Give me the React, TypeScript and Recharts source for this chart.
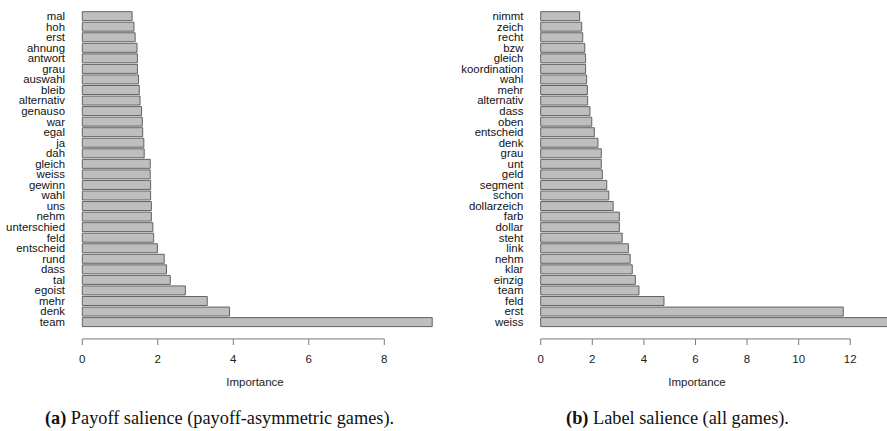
import React from 'react';
import { BarChart, Bar, XAxis, YAxis, ReferenceLine } from 'recharts';

const payoffWords = ['mal','hoh','erst','ahnung','antwort','grau','auswahl','bleib','alternativ','genauso','war','egal','ja','dah','gleich','weiss','gewinn','wahl','uns','nehm','unterschied','feld','entscheid','rund','dass','tal','egoist','mehr','denk','team'];
const payoffImportance = [1.32,1.37,1.40,1.45,1.46,1.46,1.49,1.51,1.53,1.57,1.59,1.60,1.63,1.64,1.80,1.80,1.81,1.81,1.83,1.83,1.87,1.89,1.99,2.17,2.23,2.33,2.73,3.31,3.90,9.27];
const payoffTicks = [0, 2, 4, 6, 8];

const labelWords = ['nimmt','zeich','recht','bzw','gleich','koordination','wahl','mehr','alternativ','dass','oben','entscheid','denk','grau','unt','geld','segment','schon','dollarzeich','farb','dollar','steht','link','nehm','klar','einzig','team','feld','erst','weiss'];
const labelImportance = [1.51,1.59,1.63,1.71,1.74,1.74,1.78,1.81,1.82,1.91,1.98,2.08,2.22,2.35,2.35,2.39,2.56,2.64,2.81,3.05,3.05,3.16,3.40,3.47,3.55,3.67,3.81,4.78,11.73,13.9];
const labelTicks = [0, 2, 4, 6, 8, 10, 12];

const axisTitle = 'Importance';
const captionA = { tag: '(a)', text: ' Payoff salience (payoff-asymmetric games).' };
const captionB = { tag: '(b)', text: ' Label salience (all games).' };

const payoffData = payoffWords.map((w, i) => ({ word: w, value: payoffImportance[i] }));
const labelData = labelWords.map((w, i) => ({ word: w, value: labelImportance[i] }));

const sans = "'Liberation Sans', Arial, Helvetica, sans-serif";
const serif = "'Liberation Serif', 'Times New Roman', serif";
const AXIS_DROP = 17;
const axisGray = '#7a7a7a';

function Panel({ data, ticks, domainMax, yWidth, width, marginRight }: any) {
  const lastWord = data[data.length - 1].word;
  const lastTick = ticks[ticks.length - 1];
  return (
    <BarChart
      width={width}
      height={372}
      data={data}
      layout="vertical"
      margin={{ top: 10.7, right: marginRight, bottom: 1, left: 0 }}
      barCategoryGap="9%"
    >
      <XAxis
        type="number"
        dataKey="value"
        domain={[0, domainMax]}
        ticks={ticks}
        height={32}
        tickSize={6}
        tickMargin={10}
        axisLine={false}
        tickLine={{ stroke: axisGray }}
        tick={{ fontSize: 11.5, fill: '#222' }}
      />
      <YAxis
        type="category"
        dataKey="word"
        width={yWidth}
        axisLine={false}
        tickLine={false}
        tickSize={0}
        tickMargin={17.3}
        interval={0}
        padding={{ top: 0, bottom: 11.8 }}
        tick={{ fontSize: 11.4, fill: '#111' }}
      />
      <Bar dataKey="value" fill="#bebebe" stroke="#555" strokeWidth={0.9} isAnimationActive={false} />
      <ReferenceLine
        segment={[{ x: 0, y: lastWord }, { x: lastTick, y: lastWord }]}
        ifOverflow="visible"
        shape={(p: any) => (
          <line x1={p.x1} x2={p.x2} y1={p.y1 + AXIS_DROP} y2={p.y2 + AXIS_DROP} stroke={axisGray} strokeWidth={1} />
        )}
      />
    </BarChart>
  );
}

export default function App() {
  const abs = (left: number, top: number): React.CSSProperties => ({ position: 'absolute', left, top });
  const capStyle: React.CSSProperties = { width: 400, textAlign: 'center', fontSize: 18.3, color: '#111', fontFamily: serif, whiteSpace: 'nowrap' };
  return (
    <div style={{ position: 'absolute', left: 0, top: 0, width: 887, height: 431, overflow: 'hidden', background: '#fff', fontFamily: sans }}>
      <div style={abs(0, 0)}>
        <Panel data={payoffData} ticks={payoffTicks} domainMax={9.325} yWidth={82.3} width={450} marginRight={15.7} />
      </div>
      <div style={abs(440, 0)}>
        <Panel data={labelData} ticks={labelTicks} domainMax={14.51} yWidth={100.7} width={480} marginRight={5} />
      </div>
      <div style={{ ...abs(155, 376), width: 200, textAlign: 'center', fontSize: 11.5, color: '#222' }}>{axisTitle}</div>
      <div style={{ ...abs(597, 376), width: 200, textAlign: 'center', fontSize: 11.5, color: '#222' }}>{axisTitle}</div>
      <div style={{ ...abs(19.5, 407.5), ...capStyle }}>
        <b>{captionA.tag}</b>{captionA.text}
      </div>
      <div style={{ ...abs(477.5, 407.5), ...capStyle }}>
        <b>{captionB.tag}</b>{captionB.text}
      </div>
    </div>
  );
}
